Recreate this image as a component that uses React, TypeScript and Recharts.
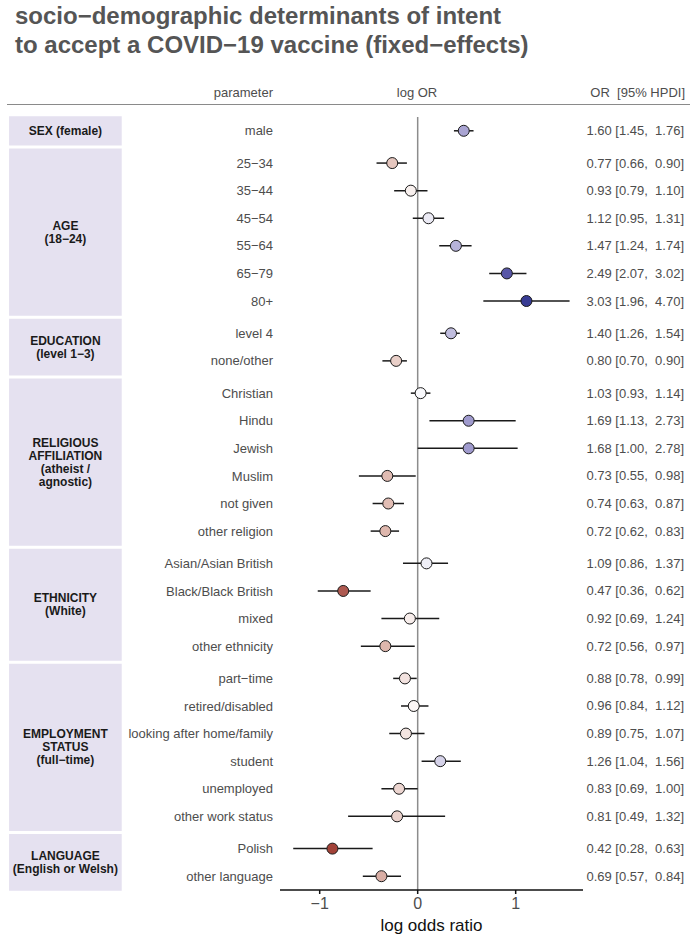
import React from 'react'
import { ScatterChart, Scatter, XAxis, YAxis, ErrorBar, ReferenceLine, ReferenceArea } from 'recharts'

// reference group for each block of parameters
const groupLabels = [
  ['SEX (female)'],
  ['AGE', '(18−24)'],
  ['EDUCATION', '(level 1−3)'],
  ['RELIGIOUS', 'AFFILIATION', '(atheist /', 'agnostic)'],
  ['ETHNICITY', '(White)'],
  ['EMPLOYMENT', 'STATUS', '(full−time)'],
  ['LANGUAGE', '(English or Welsh)'],
]
const groupSizes = [1, 6, 2, 6, 4, 6, 2]

const parameters = [
  'male',
  '25−34', '35−44', '45−54', '55−64', '65−79', '80+',
  'level 4', 'none/other',
  'Christian', 'Hindu', 'Jewish', 'Muslim', 'not given', 'other religion',
  'Asian/Asian British', 'Black/Black British', 'mixed', 'other ethnicity',
  'part−time', 'retired/disabled', 'looking after home/family', 'student', 'unemployed', 'other work status',
  'Polish', 'other language',
]

// log odds ratio, posterior mean and 95% HPDI bounds
const logOR = [
  0.47,
  -0.26, -0.07, 0.11, 0.39, 0.91, 1.11,
  0.34, -0.22,
  0.03, 0.52, 0.52, -0.31, -0.30, -0.33,
  0.09, -0.76, -0.08, -0.33,
  -0.13, -0.04, -0.12, 0.23, -0.19, -0.21,
  -0.87, -0.37,
]
const logLow = [
  0.37,
  -0.42, -0.24, -0.05, 0.22, 0.73, 0.67,
  0.23, -0.36,
  -0.07, 0.12, 0.0, -0.60, -0.46, -0.48,
  -0.15, -1.02, -0.37, -0.58,
  -0.25, -0.17, -0.29, 0.04, -0.37, -0.71,
  -1.27, -0.56,
]
const logHigh = [
  0.57,
  -0.11, 0.10, 0.27, 0.55, 1.11, 1.55,
  0.43, -0.11,
  0.13, 1.00, 1.02, -0.02, -0.14, -0.19,
  0.31, -0.48, 0.22, -0.03,
  -0.01, 0.11, 0.07, 0.44, 0.0, 0.28,
  -0.46, -0.17,
]

const orText = [
  '1.60 [1.45,  1.76]',
  '0.77 [0.66,  0.90]', '0.93 [0.79,  1.10]', '1.12 [0.95,  1.31]', '1.47 [1.24,  1.74]', '2.49 [2.07,  3.02]', '3.03 [1.96,  4.70]',
  '1.40 [1.26,  1.54]', '0.80 [0.70,  0.90]',
  '1.03 [0.93,  1.14]', '1.69 [1.13,  2.73]', '1.68 [1.00,  2.78]', '0.73 [0.55,  0.98]', '0.74 [0.63,  0.87]', '0.72 [0.62,  0.83]',
  '1.09 [0.86,  1.37]', '0.47 [0.36,  0.62]', '0.92 [0.69,  1.24]', '0.72 [0.56,  0.97]',
  '0.88 [0.78,  0.99]', '0.96 [0.84,  1.12]', '0.89 [0.75,  1.07]', '1.26 [1.04,  1.56]', '0.83 [0.69,  1.00]', '0.81 [0.49,  1.32]',
  '0.42 [0.28,  0.63]', '0.69 [0.57,  0.84]',
]

const xTicks = [-1, 0, 1]

const GROUP_GAP = 0.17
const X_DOMAIN = [-1.405, 1.687]
// group boxes sit left of the plot, in log OR units
const BOX_X1 = -4.17
const BOX_X2 = -3.02

const posStops: [number, string][] = [[0, '#ffffff'], [0.5, '#a39ecf'], [0.9, '#5a57a8'], [1.15, '#313790']]
const negStops: [number, string][] = [[0, '#ffffff'], [0.3, '#e1bdb4'], [0.9, '#9f3b31']]

const hex = (c: string) => [1, 3, 5].map(i => parseInt(c.slice(i, i + 2), 16))

function colorFor(v: number) {
  const stops = v >= 0 ? posStops : negStops
  const a = Math.abs(v)
  for (let i = 1; i < stops.length; i++) {
    if (a <= stops[i][0] || i === stops.length - 1) {
      const [a0, c0] = stops[i - 1]
      const [a1, c1] = stops[i]
      const t = Math.min(1, (a - a0) / (a1 - a0))
      const p = hex(c0), q = hex(c1)
      return `rgb(${p.map((x, k) => Math.round(x + (q[k] - x) * t)).join(',')})`
    }
  }
  return '#ffffff'
}

// row positions: one unit per row, a small extra gap between groups
const rowGroup: number[] = []
groupSizes.forEach((n, g) => { for (let k = 0; k < n; k++) rowGroup.push(g) })
const positions = rowGroup.map((g, i) => i + g * GROUP_GAP)
const yMax = positions[positions.length - 1] + 0.5

const data = parameters.map((name, i) => ({
  name,
  pos: positions[i],
  est: logOR[i],
  err: [logOR[i] - logLow[i], logHigh[i] - logOR[i]],
  fill: colorFor(logOR[i]),
}))

const groupBounds = groupSizes.map((n, g) => {
  const first = rowGroup.indexOf(g)
  return { y1: positions[first] - 0.53, y2: positions[first + n - 1] + 0.53 }
})

const labelAt = (list: string[]) => (v: number) => {
  const i = positions.findIndex(p => Math.abs(p - v) < 1e-6)
  return i >= 0 ? list[i] : ''
}

function GroupLabel({ viewBox, lines }: any) {
  const { x, y, width, height } = viewBox
  const cx = x + width / 2
  const lh = 13
  const top = y + height / 2 - ((lines.length - 1) * lh) / 2
  return (
    <text x={cx} y={top} textAnchor="middle" dominantBaseline="central" fontSize={12} fontWeight="bold" fill="#1a1a1a">
      {lines.map((l: string, i: number) => (
        <tspan key={i} x={cx} dy={i === 0 ? 0 : lh}>{l}</tspan>
      ))}
    </text>
  )
}

const OrTick = (p: any) => (
  <text x={p.x} y={p.y} textAnchor="end" dominantBaseline="central" fontSize={13} fill="#4d4d4d" xmlSpace="preserve" style={{ whiteSpace: 'pre' }}>
    {labelAt(orText)(p.payload.value)}
  </text>
)

const Dot = (p: any) => (
  <circle cx={p.cx} cy={p.cy} r={5.5} fill={p.payload.fill} stroke="#1a1a1a" strokeWidth={1} />
)

const minus = (v: number) => (v < 0 ? `−${Math.abs(v)}` : String(v))

export default function App() {
  const font = '"Liberation Sans", Arial, sans-serif'
  return (
    <div style={{ position: 'absolute', left: 0, top: 0, width: 690, height: 939, fontFamily: font, background: '#fff' }}>
      <ScatterChart width={690} height={939} margin={{ top: 117, right: 0, bottom: 0, left: 0 }} style={{ position: 'absolute', left: 0, top: 0 }}>
        {groupBounds.map((b, g) => (
          <ReferenceArea
            key={g}
            yAxisId="left"
            x1={BOX_X1}
            x2={BOX_X2}
            y1={b.y1}
            y2={b.y2}
            fill="#e5e1f0"
            fillOpacity={1}
            stroke="none"
            ifOverflow="visible"
            label={<GroupLabel lines={groupLabels[g]} />}
          />
        ))}
        <XAxis
          type="number"
          dataKey="est"
          domain={X_DOMAIN}
          allowDataOverflow
          ticks={xTicks}
          tickFormatter={minus}
          stroke="#111"
          strokeWidth={1.5}
          tickSize={4}
          tickMargin={4}
          tick={{ fill: '#4d4d4d', fontSize: 16 }}
          height={49}
          label={{ value: 'log odds ratio', position: 'insideBottom', offset: 8, fontSize: 17, fill: '#111' }}
        />
        <YAxis
          yAxisId="left"
          type="number"
          dataKey="pos"
          reversed
          domain={[-0.5, yMax]}
          allowDataOverflow
          ticks={positions}
          interval={0}
          tickFormatter={labelAt(parameters)}
          width={280}
          axisLine={false}
          tickLine={false}
          tickSize={0}
          tickMargin={7}
          tick={{ fill: '#4d4d4d', fontSize: 13 }}
        />
        <YAxis
          yAxisId="right"
          orientation="right"
          type="number"
          reversed
          domain={[-0.5, yMax]}
          allowDataOverflow
          ticks={positions}
          interval={0}
          width={107}
          axisLine={false}
          tickLine={false}
          tickSize={0}
          tickMargin={101}
          tick={<OrTick />}
        />
        <ReferenceLine yAxisId="left" x={0} stroke="#8c8c8c" strokeWidth={1.5} />
        <Scatter yAxisId="left" data={data} shape={Dot} isAnimationActive={false}>
          <ErrorBar dataKey="err" direction="x" width={0} stroke="#1a1a1a" strokeWidth={1.5} isAnimationActive={false} />
        </Scatter>
      </ScatterChart>

      <div style={{ position: 'absolute', left: 15, top: 1, fontSize: 24, lineHeight: '29px', fontWeight: 'bold', color: '#555' }}>
        <div>socio−demographic determinants of intent</div>
        <div>to accept a COVID−19 vaccine (fixed−effects)</div>
      </div>

      <div style={{ position: 'absolute', top: 85, right: 690 - 273, fontSize: 13, color: '#4d4d4d', whiteSpace: 'nowrap' }}>parameter</div>
      <div style={{ position: 'absolute', top: 85, left: 367, width: 100, textAlign: 'center', fontSize: 13, color: '#4d4d4d' }}>log OR</div>
      <div style={{ position: 'absolute', top: 85, right: 5, fontSize: 13, color: '#4d4d4d', whiteSpace: 'pre' }}>OR  [95% HPDI]</div>
      <div style={{ position: 'absolute', top: 104, left: 7, width: 683, height: 0, borderTop: '1.5px solid #8a8a8a' }} />
    </div>
  )
}
